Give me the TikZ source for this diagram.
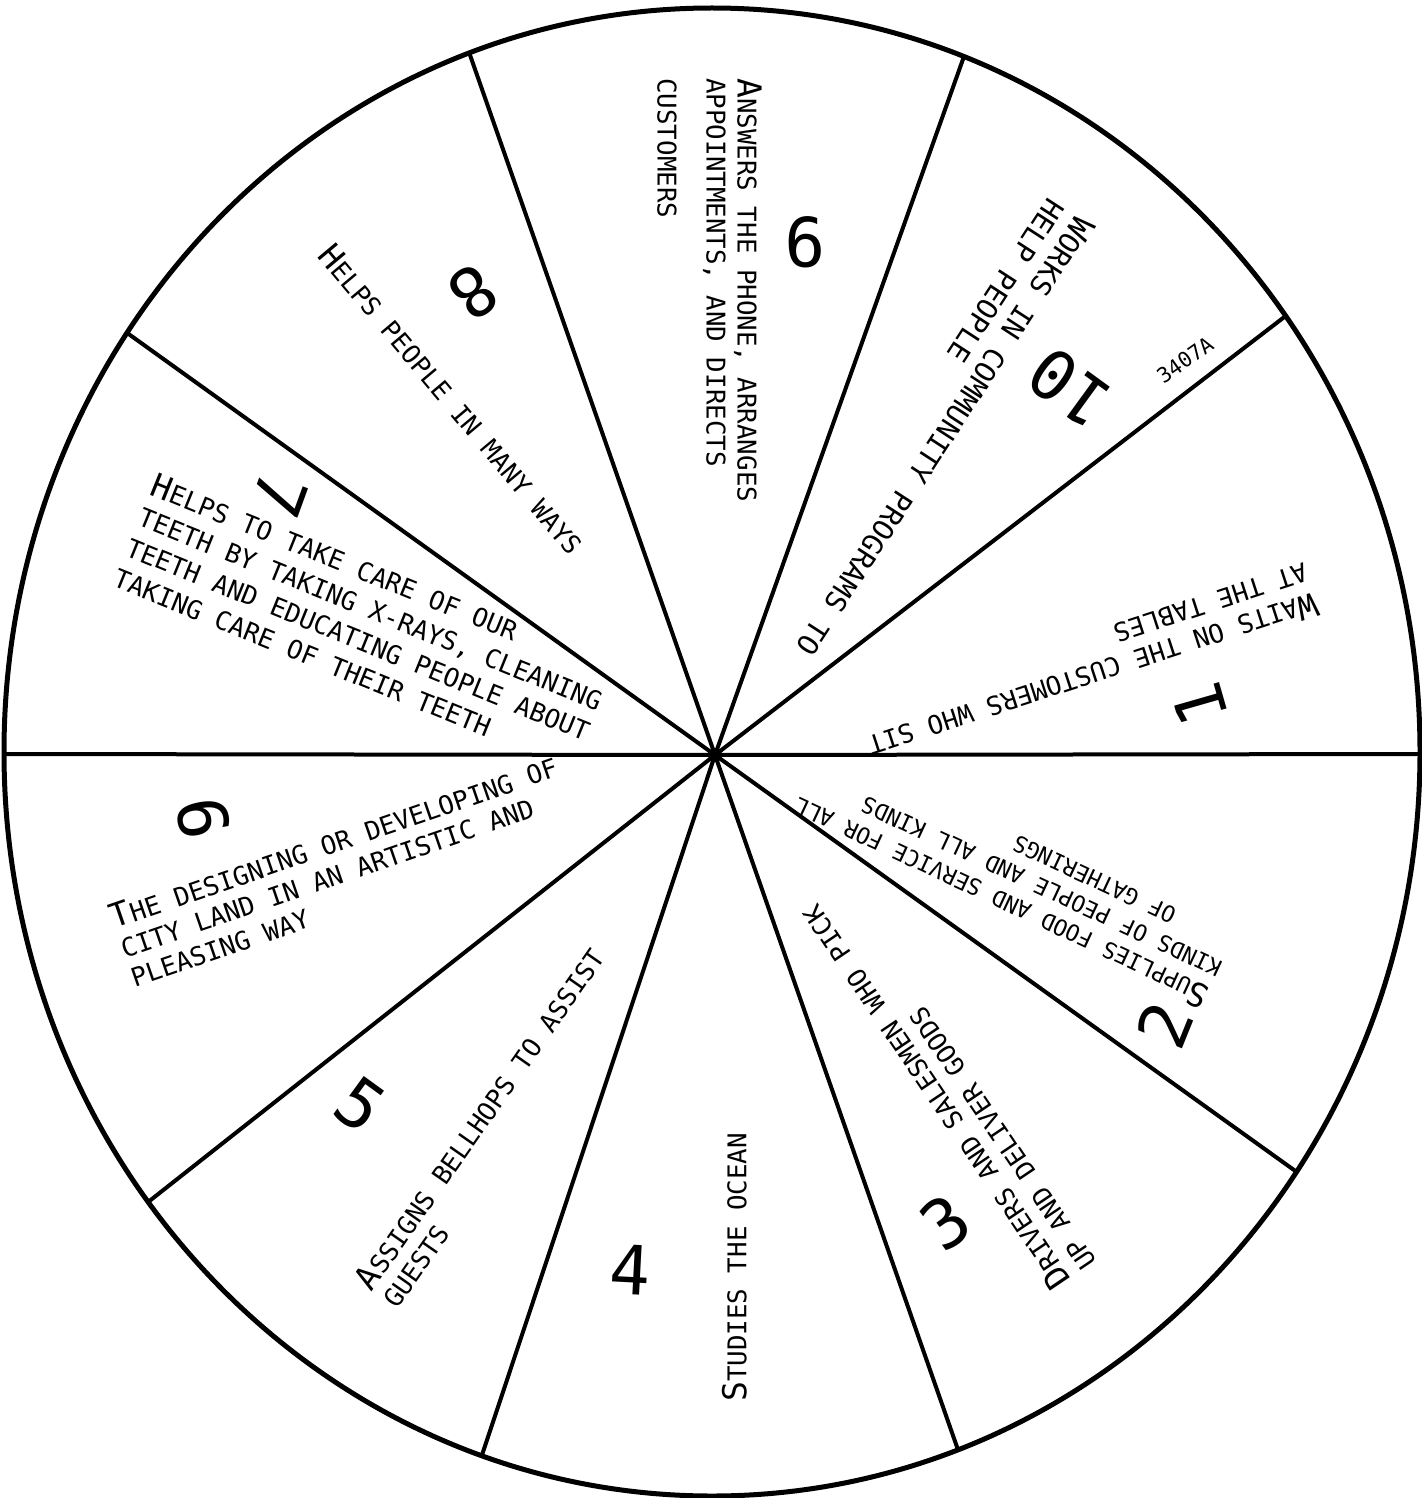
\documentclass[tikz,border=0pt]{standalone}
\usepackage{fontspec}
\newfontfamily\letfont{DejaVu Sans Mono}
\usetikzlibrary{calc}
\tikzset{
  x=0.5pt, y=0.5pt,
  wtxt/.style={font=\letfont\fontsize{12.9}{15}\selectfont, inner sep=0pt, anchor=mid west},
  wtxts/.style={wtxt, font=\letfont\fontsize{11.3}{13}\selectfont},
  wtxtl/.style={wtxt, font=\letfont\fontsize{14.2}{16}\selectfont},
  num/.style={font=\letfont\fontsize{34}{34}\selectfont, inner sep=0pt},
  code/.style={font=\letfont\fontsize{10.5}{12}\selectfont, inner sep=0pt},
  spoke/.style={line width=2pt, line cap=round},
  rim/.style={line width=2.5pt},
}
\newcommand\firstl[1]{{\fontsize{16.5}{16}\selectfont #1}}
\newcommand\wheeltext[6][wtxt]{%
  \foreach \wl [count=\i from 0] in {#6}{%
    \node[#1, rotate=#4, name=#2-\i] at ($(#3)+(#4-90:\i*#5)$) {\wl};
  }%
}
\begin{document}
\begin{tikzpicture}
\useasboundingbox (0,0) rectangle (1421,-1498);
\coordinate (hub) at (715,-755);
\coordinate (ctr) at (712,-752);
\coordinate (r0) at (1420,-754);
\coordinate (r36) at (1283,-318);
\coordinate (r72) at (962,-62);
\coordinate (r108) at (470,-55);
\coordinate (r144) at (130,-335);
\coordinate (r180) at (4,-754);
\coordinate (r216) at (157,-1195);
\coordinate (r252) at (483,-1452);
\coordinate (r288) at (957,-1447);
\coordinate (r324) at (1287,-1165);
\begin{scope}
  \clip (ctr) ellipse [x radius=708, y radius=744];
  \foreach \e in {r0,r36,r72,r108,r144,r180,r216,r252,r288,r324}
    \draw[spoke] (hub) -- ($(hub)!1.1!(\e)$);
\end{scope}
\draw[rim] (ctr) ellipse [x radius=708, y radius=744];
\fill (hub) circle [radius=7];

% texts
\wheeltext{t1}{1315,-596}{198}{31}{{\firstl{W}AITS ON THE CUSTOMERS WHO SIT},{AT THE TABLES}}
\wheeltext[wtxts]{t2}{1210,-993}{155}{29}{{\firstl{S}UPPLIES FOOD AND SERVICE FOR ALL},{KINDS OF PEOPLE AND ALL KINDS},{\hspace*{32pt}OF GATHERINGS}}
\wheeltext{t3}{1068,-1282}{124}{31}{{\firstl{D}RIVERS AND SALESMEN WHO PICK},{UP AND DELIVER GOODS}}
\wheeltext{t4}{742,-1402}{90}{31}{{\firstl{S}TUDIES THE OCEAN}}
\wheeltext{t5}{368,-1290}{55}{31}{{\firstl{A}SSIGNS BELLHOPS TO ASSIST},{GUESTS}}
\wheeltext{t6}{113,-925}{19}{31}{{\firstl{T}HE DESIGNING OR DEVELOPING OF},{CITY LAND IN AN ARTISTIC AND},{PLEASING WAY}}
\wheeltext{t7}{150,-490}{-22}{33}{{\firstl{H}ELPS TO TAKE CARE OF OUR},{TEETH BY TAKING X-RAYS, CLEANING},{TEETH AND EDUCATING PEOPLE ABOUT},{TAKING CARE OF THEIR TEETH}}
\wheeltext{t8}{320,-253}{-50}{31}{{\firstl{H}ELPS PEOPLE IN MANY WAYS}}
\wheeltext{t9}{742,-78}{-90}{31}{{\firstl{A}NSWERS THE PHONE, ARRANGES},{APPOINTMENTS, AND DIRECTS}}
\node[wtxt, rotate=-90] (t9-2) at (662,-78) {CUSTOMERS};
\wheeltext[wtxtl]{t10}{1080,-216}{237}{33}{{\firstl{W}ORKS IN COMMUNITY PROGRAMS TO},{HELP PEOPLE}}

% numbers
\node[num, rotate=106] (n1) at (1200,-705) {1};
\node[num, rotate=68] (n2) at (1165,-1025) {2};
\node[num, rotate=36] (n3) at (945,-1222) {3};
\node[num, rotate=-3] (n4) at (630,-1270) {4};
\node[num, rotate=-36] (n5) at (360,-1105) {5};
\node[num, rotate=-80] (n6) at (203,-818) {6};
\node[num, rotate=-110] (n7) at (280,-495) {7};
\node[num, rotate=-144] (n8) at (473,-293) {8};
\node[num, rotate=180] (n9) at (805,-242) {9};
\node[num, rotate=144] (n10) at (1070,-388) {10};

\node[code, rotate=35] (code) at (1185,-360) {3407A};
\end{tikzpicture}
\end{document}
